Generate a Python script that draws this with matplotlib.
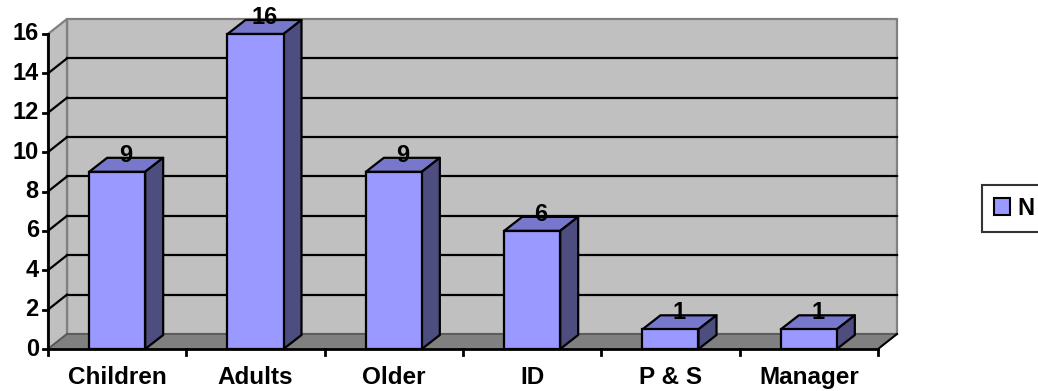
import matplotlib
matplotlib.use("Agg")
import matplotlib.pyplot as plt
from matplotlib.patches import Polygon, Rectangle, Patch

categories = ["Children", "Adults", "Older", "ID", "P & S", "Manager"]
counts = [9, 16, 9, 6, 1, 1]
series_name = "N"
y_ticks = [0, 2, 4, 6, 8, 10, 12, 14, 16]

plt.rcParams["font.family"] = ["Liberation Sans", "DejaVu Sans"]
plt.rcParams["font.weight"] = "bold"

W, H, DPI = 1038, 391, 100
fig = plt.figure(figsize=(W / DPI, H / DPI), dpi=DPI)
ax = fig.add_axes([48 / W, 42 / H, 830 / W, 315 / H])
n = len(categories)
ymax = y_ticks[-1]
ax.set_xlim(0, n)
ax.set_ylim(0, ymax)
ax.axis("off")

# depth of the 3-D box, converted from pixels into data units
ax_w_px = 830
ax_h_px = 315
dx = 19 / (ax_w_px / n)
dy = 15 / (ax_h_px / ymax)
bdx = 18 / (ax_w_px / n)
bdy = 14 / (ax_h_px / ymax)

wall = "#C0C0C0"
edge_grey = "#808080"

# back wall
ax.add_patch(Rectangle((dx, dy), n, ymax, facecolor=wall, edgecolor=edge_grey,
                       lw=1.6, clip_on=False, zorder=1))
# left side wall
ax.add_patch(Polygon([(0, 0), (dx, dy), (dx, ymax + dy), (0, ymax)], closed=True,
                     facecolor=wall, edgecolor=edge_grey, lw=1.6, clip_on=False, zorder=1))
# floor
ax.add_patch(Polygon([(0, 0), (n, 0), (n + dx, dy), (dx, dy)], closed=True,
                     facecolor="#808080", edgecolor="none", clip_on=False, zorder=1.5))
ax.plot([dx, n + dx], [dy, dy], color="#555555", lw=1.2, clip_on=False, zorder=1.6)
ax.plot([n, n + dx], [0, dy], color="black", lw=1.5, clip_on=False, zorder=1.6)
ax.plot([0, dx], [0, dy], color="#555555", lw=1.2, clip_on=False, zorder=1.6)

# gridlines on back wall and left wall
for v in y_ticks[1:-1]:
    ax.plot([dx, n + dx], [v + dy, v + dy], color="black", lw=1.6, clip_on=False, zorder=2)
    ax.plot([0, dx], [v, v + dy], color="black", lw=1.6, clip_on=False, zorder=2)

# bars
front = "#9999FF"
top = "#7777CC"
side = "#4D4D80"
bw = 56 / (ax_w_px / n)
for i, v in enumerate(counts):
    x0 = i + 0.5 - bw / 2
    x1 = x0 + bw
    ax.bar(i + 0.5, v, width=bw, color=front, edgecolor="black", lw=1.6,
           zorder=5, clip_on=False)
    ax.add_patch(Polygon([(x0, v), (x1, v), (x1 + bdx, v + bdy), (x0 + bdx, v + bdy)],
                         closed=True, facecolor=top, edgecolor="black", lw=1.6,
                         joinstyle="round", clip_on=False, zorder=4))
    ax.add_patch(Polygon([(x1, 0), (x1 + bdx, bdy), (x1 + bdx, v + bdy), (x1, v)],
                         closed=True, facecolor=side, edgecolor="black", lw=1.6,
                         joinstyle="round", clip_on=False, zorder=4))
    ax.annotate(str(v), (i + 0.5 + bdx / 2, v), xytext=(0, 3.5),
                textcoords="offset points", ha="center", va="bottom",
                fontsize=17, fontweight="bold", zorder=6, annotation_clip=False)

# axes lines and ticks
ax.plot([0, n], [0, 0], color="black", lw=2, clip_on=False, zorder=7)
ax.plot([0, 0], [0, ymax], color="black", lw=2, clip_on=False, zorder=7)
tick_len_y = 5 / (ax_w_px / n)
tick_len_x = 6 / (ax_h_px / ymax)
for v in y_ticks:
    ax.plot([-tick_len_y, 0], [v, v], color="black", lw=2, clip_on=False, zorder=7)
    ax.text(-tick_len_y - 0.03, v, str(v), ha="right", va="center",
            fontsize=17, fontweight="bold")
for k in range(n + 1):
    ax.plot([k, k], [0, -tick_len_x], color="black", lw=2, clip_on=False, zorder=7)
for i, c in enumerate(categories):
    ax.text(i + 0.5, -1.45, c, ha="center", va="center", fontsize=17.5, fontweight="bold")

# legend
handle = Patch(facecolor=front, edgecolor="black", lw=1.5)
leg = fig.legend([handle], [series_name], loc="upper left",
                 bbox_to_anchor=(982 / W, 1 - 185 / H), borderaxespad=0,
                 frameon=True, fancybox=False, handlelength=0.7, handleheight=0.7,
                 handletextpad=0.3, borderpad=0.5,
                 prop={"size": 17, "weight": "bold"})
leg.get_frame().set_edgecolor("black")
leg.get_frame().set_linewidth(1.5)

fig.savefig("out.png", dpi=DPI)
